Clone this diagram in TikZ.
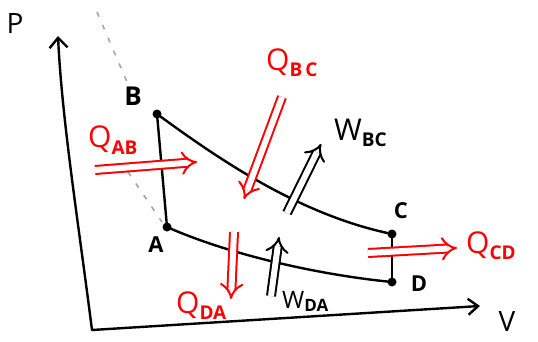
\documentclass[tikz,border=0pt]{standalone}
\usepackage{fontspec}
\setmainfont{Open Sans}
\usetikzlibrary{arrows.meta}
\newcommand\biglab[2]{{\fontsize{30}{30}\selectfont #1}\raisebox{-6pt}{\bfseries\fontsize{19}{19}\selectfont #2}}
\tikzset{
  ink/.style={draw=black, line width=2.4pt, line cap=round, line join=round},
  dot/.style={circle, fill=black, inner sep=0pt, minimum size=9pt},
  ptlab/.style={font=\bfseries\fontsize{22}{22}\selectfont, inner sep=0pt},
  axlab/.style={font=\fontsize{28}{28}\selectfont, inner sep=0pt},
  qarrow/.style={draw=red, double=white, double distance=6pt, line width=2pt, -{Implies[length=12pt]}},
  warrow/.style={draw=black, double=white, double distance=6pt, line width=2pt, -{Implies[length=12pt]}},
  redlab/.style={text=red, inner sep=0pt, anchor=base west},
  blacklab/.style={text=black, inner sep=0pt, anchor=base west},
  adiab/.style={draw=gray!70, line width=1.6pt, dash pattern=on 5pt off 9pt}
}
\begin{document}
\begin{tikzpicture}[x=1pt,y=-1pt]
\useasboundingbox (0,0) rectangle (538,342);
% axes
\coordinate (O) at (92,330);
\coordinate (Ptip) at (58,36);
\coordinate (Vtip) at (480,306);
\draw[ink, -{Straight Barb[length=10pt,width=18pt]}] (O) .. controls (78,220) and (62,120) .. (Ptip);
\draw[ink, -{Straight Barb[length=10pt,width=16pt]}] (O) -- (Vtip);
\node[axlab] (P) at (15,24) {P};
\node[axlab] (V) at (507,322) {V};
% adiabat dashes
\coordinate (d1) at (97,12);
\coordinate (d2) at (127,82);
\coordinate (d3) at (128,172);
\coordinate (d4) at (162,222);
\draw[adiab] (d1) -- (d2);
\draw[adiab] (d3) -- (d4);
% cycle
\node[dot] (B) at (157,114) {};
\node[dot] (A) at (167,227) {};
\node[dot] (C) at (392,234) {};
\node[dot] (D) at (392,282) {};
\draw[ink] (B.center) .. controls (220,160) and (300,215) .. (C.center);
\draw[ink] (A.center) .. controls (230,255) and (320,275) .. (D.center);
\draw[ink] (A.center) -- (B.center);
\draw[ink] (C.center) -- (D.center);
\node[ptlab] (lA) at (156,245) {A};
\node[ptlab, font=\bfseries\fontsize{26}{26}\selectfont] (lB) at (133,96) {B};
\node[ptlab] (lC) at (401,211) {C};
\node[ptlab] (lD) at (419,284) {D};
% heat and work arrows
\coordinate (qab1) at (95,170);  \coordinate (qab2) at (197,162);
\coordinate (qbc1) at (282,97);  \coordinate (qbc2) at (244,199);
\coordinate (wbc1) at (287,213); \coordinate (wbc2) at (321,144);
\coordinate (qda1) at (234,232); \coordinate (qda2) at (231,299);
\coordinate (wda1) at (271,296); \coordinate (wda2) at (279,237);
\coordinate (qcd1) at (368,253); \coordinate (qcd2) at (457,248);
\draw[qarrow] (qab1) -- (qab2);
\draw[qarrow] (qbc1) -- (qbc2);
\draw[warrow] (wbc1) -- (wbc2);
\draw[qarrow] (qda1) -- (qda2);
\draw[warrow] (wda1) -- (wda2);
\draw[qarrow] (qcd1) -- (qcd2);
% labels
\node[redlab] (QAB) at (88,148) {\biglab{Q}{AB}};
\node[redlab] (QBC) at (266,71) {\biglab{Q}{B\,C}};
\node[blacklab] (WBC) at (334,140) {\biglab{W}{BC}};
\node[redlab] (QDA) at (176,313) {\biglab{Q}{DA}};
\node[blacklab] (WDA) at (282,308) {{\fontsize{24}{24}\selectfont W}\raisebox{-3pt}{\bfseries\fontsize{17}{17}\selectfont DA}};
\node[redlab] (QCD) at (466,253) {\biglab{Q}{CD}};
\end{tikzpicture}
\end{document}
